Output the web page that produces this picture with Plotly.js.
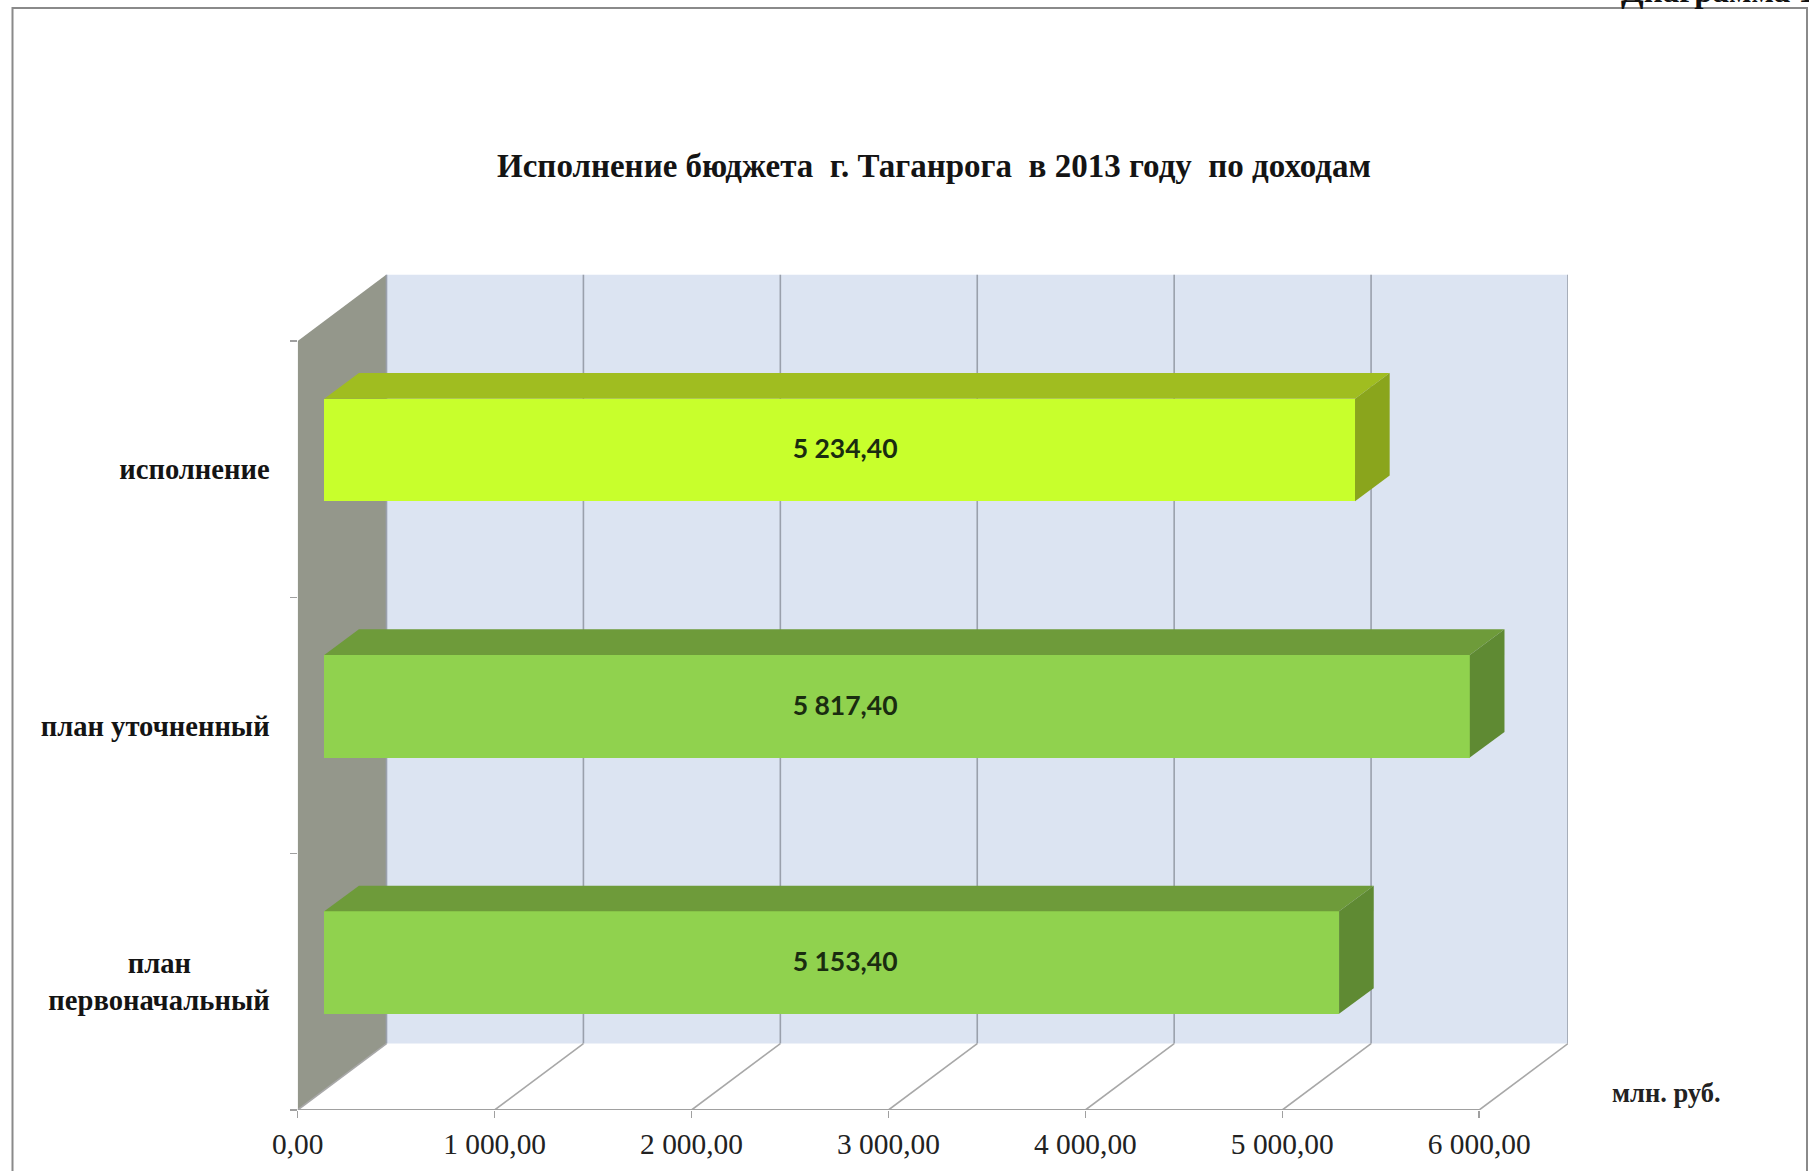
<!DOCTYPE html>
<html>
<head>
<meta charset="utf-8">
<script src="https://cdn.plot.ly/plotly-3.0.1.min.js"></script>
<style>html,body{margin:0;padding:0;background:#fff}#chart{width:1809px;height:1171px}</style>
</head>
<body>
<div id="chart"></div>
<script>
// Data, bottom to top as drawn
var categories = ['план<br>первоначальный', 'план уточненный', 'исполнение'];
var values = [5153.4, 5817.4, 5234.4];
var valueLabels = ['5 153,40', '5 817,40', '5 234,40'];
var xTickVals = [0, 1000, 2000, 3000, 4000, 5000, 6000];
var xTickText = ['0,00', '1 000,00', '2 000,00', '3 000,00', '4 000,00', '5 000,00', '6 000,00'];
var titleText = 'Исполнение бюджета  г. Таганрога  в 2013 году  по доходам';
var unitText = 'млн. руб.';
var cornerText = 'Диаграмма 1';

// Colours per bar: front, top, side
var frontColors = ['#90D24E', '#90D24E', '#C8FF2C'];
var topColors = ['#6E9B3A', '#6E9B3A', '#A0BD20'];
var sideColors = ['#5F8A33', '#5F8A33', '#8AA51C'];

// Pseudo-3D geometry in axis units
var wallDX = 451, wallDY = 0.259;
var barDX = 176, barDY = 0.1;
var barBase = 135, barShift = 0.075, barWidth = 0.4;
var labelX = 2780, labelShift = 0.068;
var yLow = -0.5, yHigh = 2.5;

var traces = [];
traces.push({
  type: 'bar', orientation: 'h',
  y: categories.map(function (c, i) { return i; }),
  x: values, base: barBase, width: barWidth,
  offset: barShift - barWidth / 2,
  marker: { color: frontColors, line: { width: 0 } },
  hoverinfo: 'skip', showlegend: false
});
values.forEach(function (v, i) {
  var lo = i + barShift - barWidth / 2, hi = i + barShift + barWidth / 2;
  var x0 = barBase, x1 = barBase + v;
  traces.push({
    type: 'scatter', mode: 'lines', fill: 'toself', fillcolor: topColors[i],
    x: [x0, x1, x1 + barDX, x0 + barDX, x0],
    y: [hi, hi, hi + barDY, hi + barDY, hi],
    line: { width: 0 }, hoverinfo: 'skip', showlegend: false
  });
  traces.push({
    type: 'scatter', mode: 'lines', fill: 'toself', fillcolor: sideColors[i],
    x: [x1, x1 + barDX, x1 + barDX, x1, x1],
    y: [lo, lo + barDY, hi + barDY, hi, lo],
    line: { width: 0 }, hoverinfo: 'skip', showlegend: false
  });
});
traces.push({
  type: 'scatter', mode: 'text',
  x: values.map(function () { return labelX; }),
  y: values.map(function (v, i) { return i + labelShift; }),
  text: valueLabels, textposition: 'middle center',
  textfont: { family: 'Lato, sans-serif', size: 26.5, color: '#1a2c10', weight: 700 },
  hoverinfo: 'skip', showlegend: false
});

var shapes = [];
// outer frame
shapes.push({ type: 'rect', xref: 'paper', yref: 'paper', x0: 12.5 / 1809, x1: 1807 / 1809, y0: -0.05, y1: 1 - 8 / 1171, layer: 'below',
  line: { color: '#8a8a8a', width: 2 }, fillcolor: '#ffffff' });
// back wall
shapes.push({ type: 'rect', x0: wallDX, x1: 6000 + wallDX, y0: yLow + wallDY, y1: yHigh + wallDY, layer: 'below',
  line: { width: 0 }, fillcolor: '#DCE4F2' });
// left wall
shapes.push({ type: 'path', layer: 'below', line: { width: 0 }, fillcolor: '#94978B',
  path: 'M0,' + yLow + ' L' + wallDX + ',' + (yLow + wallDY) + ' L' + wallDX + ',' + (yHigh + wallDY) + ' L0,' + yHigh + ' Z' });
// grid lines: back wall verticals and floor diagonals
xTickVals.forEach(function (t) {
  shapes.push({ type: 'line', layer: 'below', x0: t + wallDX, x1: t + wallDX, y0: yLow + wallDY, y1: yHigh + wallDY,
    line: { color: '#9aa0ac', width: 1.6 } });
  shapes.push({ type: 'line', layer: 'below', x0: t, x1: t + wallDX, y0: yLow, y1: yLow + wallDY,
    line: { color: '#a8a8a8', width: 1.6 } });
});
// x axis line
shapes.push({ type: 'line', layer: 'below', x0: 0, x1: 6000, y0: yLow, y1: yLow, line: { color: '#a0a0a0', width: 2 } });

var pad = '\u00A0\u00A0\u00A0\u00A0\u00A0\u00A0\u00A0\u00A0\u00A0\u00A0\u00A0';
var yTickText = categories.map(function (c) {
  return c.indexOf('<br>') > 0 ? c.replace('<br>', pad + '<br>') : c;
});

var layout = {
  width: 1809, height: 1171,
  margin: { l: 0, r: 0, t: 0, b: 0 },
  paper_bgcolor: '#ffffff', plot_bgcolor: 'rgba(0,0,0,0)',
  showlegend: false,
  bargap: 0,
  title: { text: titleText, x: 934 / 1809, xanchor: 'center', y: 1 - 165 / 1171, yanchor: 'middle',
    font: { family: 'Liberation Serif, serif', size: 33, color: '#141414', weight: 700 } },
  xaxis: {
    domain: [297.7 / 1809, 1568 / 1809], range: [0, 6000 + wallDX],
    tickmode: 'array', tickvals: xTickVals, ticktext: xTickText,
    ticks: 'outside', ticklen: 7, tickwidth: 1.5, tickcolor: '#a0a0a0',
    showgrid: false, zeroline: false, showline: false,
    ticklabelstandoff: 1,
    tickfont: { family: 'Liberation Serif, serif', size: 29.4, color: '#222222' }
  },
  yaxis: {
    domain: [61 / 1171, (1171 - 274.6) / 1171], range: [yLow, yHigh + wallDY],
    tickmode: 'array', tickvals: [0, 1, 2], ticktext: yTickText,
    ticks: '', ticklen: 0,
    minor: { tickmode: 'array', tickvals: [-0.5, 0.5, 1.5, 2.5], ticks: 'outside', ticklen: 7, tickwidth: 1.5, tickcolor: '#a0a0a0', showgrid: false },
    showgrid: false, zeroline: false, showline: false,
    ticklabelstandoff: 27,
    tickfont: { family: 'Liberation Serif, serif', size: 28.6, color: '#141414', weight: 700 }
  },
  shapes: shapes,
  annotations: [
    { xref: 'paper', yref: 'paper', x: 1610 / 1809, y: 1 - 1093 / 1171, xanchor: 'left', yanchor: 'middle', showarrow: false,
      text: unitText, font: { family: 'Liberation Serif, serif', size: 26.5, color: '#222222', weight: 700 } },
    { xref: 'paper', yref: 'paper', x: 1619 / 1809, y: 1 - 11 / 1171, xanchor: 'left', yanchor: 'bottom', showarrow: false,
      text: cornerText, font: { family: 'Liberation Serif, serif', size: 33, color: '#111111', weight: 700 } }
  ]
};
Plotly.newPlot('chart', traces, layout, { displayModeBar: false, staticPlot: true });
</script>
</body>
</html>
